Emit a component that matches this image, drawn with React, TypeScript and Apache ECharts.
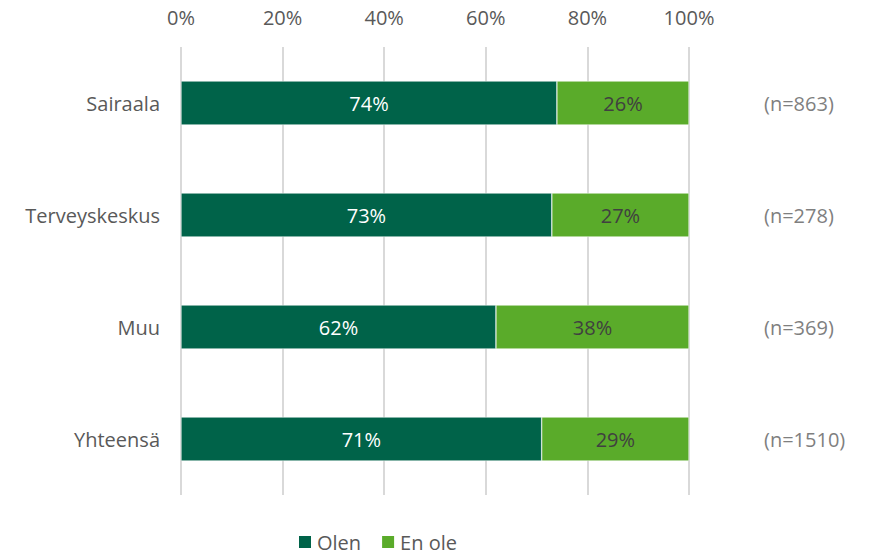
import React, { useEffect, useRef } from "react";
import * as echarts from "echarts";

const categories = ["Sairaala", "Terveyskeskus", "Muu", "Yhteensä"];
const nLabels = ["(n=863)", "(n=278)", "(n=369)", "(n=1510)"];
const olen = [74, 73, 62, 71];
const enOle = [26, 27, 38, 29];
const xTicks = [0, 20, 40, 60, 80, 100];

const FONT = "'Open Sans', 'Noto Sans', sans-serif";
const FS = 20;

export default function App() {
  const ref = useRef<HTMLDivElement>(null);
  useEffect(() => {
    document.body.style.margin = "0";
    const chart = echarts.init(ref.current!, null, { renderer: "svg" });
    chart.setOption({
      animation: false,
      textStyle: { fontFamily: FONT },
      grid: { left: 181, right: 180, top: 47, bottom: 61, containLabel: false },
      xAxis: {
        type: "value",
        position: "top",
        min: xTicks[0],
        max: xTicks[xTicks.length - 1],
        interval: 20,
        axisLine: { show: false },
        axisTick: { show: false },
        axisLabel: {
          formatter: (v: number) => v + "%",
          color: "#595959",
          fontSize: FS,
          margin: 20,
          fontFamily: FONT,
        },
        splitLine: { show: true, lineStyle: { color: "#D9D9D9", width: 2 } },
      },
      yAxis: [
        {
          type: "category",
          data: categories,
          inverse: true,
          axisLine: { show: false },
          axisTick: { show: false },
          axisLabel: { color: "#595959", fontSize: FS, margin: 21, fontFamily: FONT },
        },
        {
          type: "category",
          data: nLabels,
          inverse: true,
          position: "right",
          axisLine: { show: false },
          axisTick: { show: false },
          axisLabel: { color: "#7F7F7F", fontSize: FS, margin: 75, align: "left", fontFamily: FONT },
        },
      ],
      legend: {
        data: ["Olen", "En ole"],
        bottom: 4,
        left: 297,
        padding: 0,
        itemWidth: 14,
        itemHeight: 14,
        itemGap: 19,
        icon: "rect",
        textStyle: { color: "#595959", fontSize: FS, lineHeight: 20, fontFamily: FONT },
      },
      series: [
        {
          name: "Olen",
          type: "bar",
          stack: "a",
          data: olen,
          barWidth: 44,
          itemStyle: { color: "#006349", borderColor: "#ffffff", borderWidth: 0.5 },
          label: {
            show: true,
            position: "inside",
            formatter: "{c}%",
            color: "#FFFFFF",
            fontSize: FS,
            fontFamily: FONT,
          },
        },
        {
          name: "En ole",
          type: "bar",
          stack: "a",
          data: enOle,
          barWidth: 44,
          itemStyle: { color: "#5AAB2A", borderColor: "#ffffff", borderWidth: 0.5 },
          label: {
            show: true,
            position: "inside",
            formatter: "{c}%",
            color: "#404040",
            fontSize: FS,
            fontFamily: FONT,
          },
        },
      ],
    });
    return () => chart.dispose();
  }, []);
  return <div ref={ref} style={{ width: 869, height: 556 }} />;
}
